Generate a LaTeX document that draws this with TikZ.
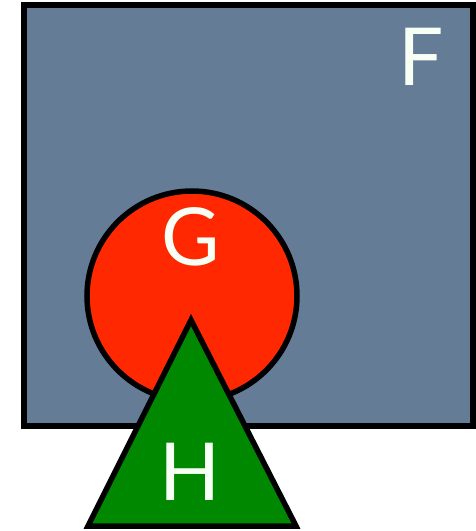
\documentclass[tikz,border=0pt]{standalone}
\usepackage{fontspec}
\setmainfont{Lato}
\definecolor{bgblue}{RGB}{100,124,150}
\definecolor{gred}{RGB}{255,40,0}
\definecolor{hgreen}{RGB}{0,136,0}
\definecolor{txtwhite}{RGB}{248,255,245}
\tikzset{
  shapeline/.style={draw=black, line width=5.5pt, line join=miter},
  bigletter/.style={text=txtwhite, font=\fontsize{80}{80}\selectfont, inner sep=0pt, anchor=center}
}
\begin{document}
\begin{tikzpicture}[x=1pt,y=-1pt]
\useasboundingbox (0,0) rectangle (476,531);
\draw[shapeline, fill=bgblue] (24,5) rectangle (473,426);
\node[bigletter] (F) at (421,57) {F};
\draw[shapeline, fill=gred] (192,296) circle (105);
\node[bigletter] (G) at (191,237) {G};
\draw[shapeline, fill=hgreen] (191,320) -- (296,526) -- (88,526) -- cycle;
\node[bigletter] (H) at (190,472) {H};
\end{tikzpicture}
\end{document}
